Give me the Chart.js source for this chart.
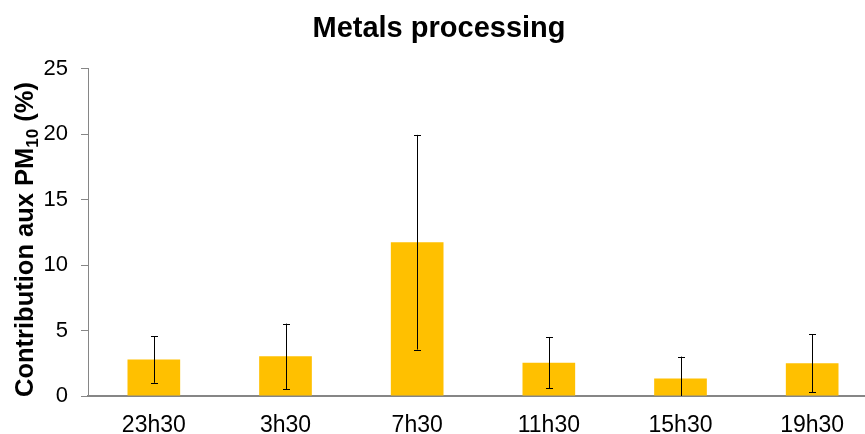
<!DOCTYPE html>
<html>
<head>
<meta charset="utf-8">
<script src="https://cdn.jsdelivr.net/npm/chart.js@4.4.0/dist/chart.umd.min.js"></script>
<style>
  html, body { margin: 0; padding: 0; background: #fff; overflow: hidden; }
  #wrap { width: 880px; height: 434px; }
</style>
</head>
<body>
<div id="wrap"><canvas id="myChart" width="880" height="434"></canvas></div>
<script>
// data
const hours = ['23h30', '3h30', '7h30', '11h30', '15h30', '19h30'];
const contribution = [2.78, 3.03, 11.75, 2.55, 1.33, 2.5];
const errors = [1.77, 2.5, 8.2, 1.96, 1.68, 2.2];
const yTicks = [0, 5, 10, 15, 20, 25];

const FONT = '"Liberation Sans", Arial, sans-serif';
const ch = document.getElementById('myChart').getContext('2d');

// black error bars, clipped at the axis
const errorBars = {
    id: 'errorBars',
    afterDatasetsDraw(chart) {
        const ctx = chart.ctx;
        const y = chart.scales.y;
        const area = chart.chartArea;
        const meta = chart.getDatasetMeta(0);
        ctx.save();
        ctx.strokeStyle = '#000';
        ctx.lineWidth = 1;
        meta.data.forEach((bar, i) => {
            const v = contribution[i], e = errors[i];
            const top = y.getPixelForValue(v + e);
            const bot = Math.min(y.getPixelForValue(v - e), area.bottom);
            const x = Math.round(bar.x) + 0.5;
            ctx.beginPath();
            ctx.moveTo(x, top);
            ctx.lineTo(x, bot);
            ctx.moveTo(x - 3.5, Math.round(top) + 0.5);
            ctx.lineTo(x + 3.5, Math.round(top) + 0.5);
            if (v - e >= 0) {
                ctx.moveTo(x - 3.5, Math.round(bot) + 0.5);
                ctx.lineTo(x + 3.5, Math.round(bot) + 0.5);
            }
            ctx.stroke();
        });
        ctx.restore();
    }
};

// y axis title with a real subscript
const yTitle = {
    id: 'yTitle',
    afterDraw(chart) {
        const ctx = chart.ctx;
        const big = 'bold 25.5px ' + FONT;
        const small = 'bold 17px ' + FONT;
        const parts = [['Contribution aux PM', big, 0], ['10', small, 5], [' (%)', big, 0]];
        ctx.save();
        let total = 0;
        parts.forEach(p => { ctx.font = p[1]; total += ctx.measureText(p[0]).width; });
        ctx.translate(33, 239.5);
        ctx.rotate(-Math.PI / 2);
        ctx.fillStyle = '#000';
        ctx.textBaseline = 'alphabetic';
        let x = -total / 2;
        parts.forEach(p => {
            ctx.font = p[1];
            ctx.fillText(p[0], x, p[2]);
            x += ctx.measureText(p[0]).width;
        });
        ctx.restore();
    }
};

const data = {
    labels: hours,
    datasets: [{
        label: 'Metals processing',
        data: contribution,
        backgroundColor: '#FFC000',
        borderWidth: 0,
        categoryPercentage: 1,
        barPercentage: 0.4
    }]
};

const config = {
    type: 'bar',
    data: data,
    options: {
        responsive: false,
        animation: false,
        layout: { padding: { left: 0, right: 2, top: 0, bottom: 0 } },
        plugins: {
            legend: { display: false },
            tooltip: { enabled: false },
            title: {
                display: true,
                text: 'Metals processing',
                color: '#000',
                font: { family: FONT, size: 29, weight: 'bold' },
                padding: { top: 12, bottom: 22 }
            }
        },
        scales: {
            x: {
                grid: { display: false },
                border: { color: '#868686', width: 2 },
                ticks: {
                    color: '#000',
                    padding: 8,
                    font: { family: FONT, size: 23 }
                },
                afterFit(scale) { scale.height = 38; }
            },
            y: {
                min: 0,
                max: 25,
                afterBuildTicks(scale) { scale.ticks = yTicks.map(v => ({ value: v })); },
                grid: { drawOnChartArea: false, drawTicks: true, tickLength: 7, color: '#868686' },
                border: { color: '#868686', width: 1 },
                ticks: {
                    color: '#000',
                    padding: 13,
                    font: { family: FONT, size: 22 }
                },
                afterFit(scale) { scale.width = 88; }
            }
        }
    },
    plugins: [errorBars, yTitle]
};

const myChart = new Chart(ch, config);
</script>
</body>
</html>
